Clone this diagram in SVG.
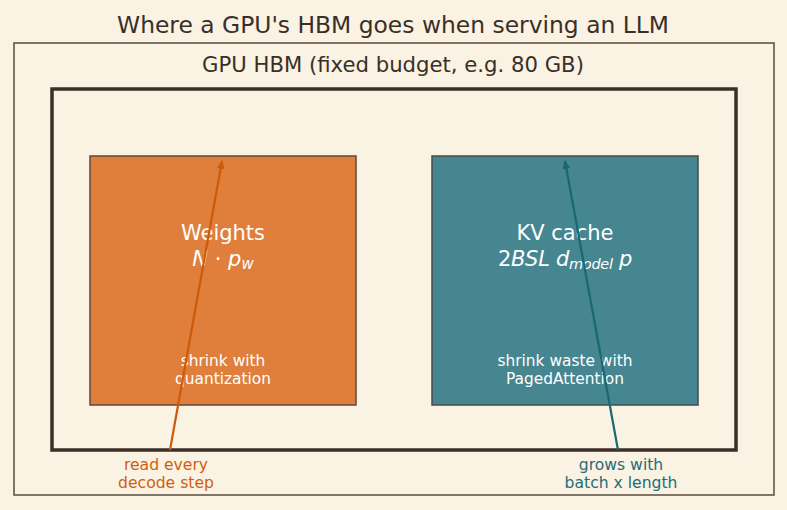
<svg xmlns="http://www.w3.org/2000/svg" width="787" height="510" viewBox="0 0 787 510">
<style>
text{font-family:"DejaVu Sans","Noto Sans",sans-serif;}
.title{font-size:23.4px;fill:#3a2f28;text-anchor:middle;}
.sub{font-size:21.2px;fill:#3a2f28;text-anchor:middle;}
.nt{font-size:21px;fill:#ffffff;text-anchor:middle;}
.ns{font-size:15.4px;fill:#ffffff;text-anchor:middle;}
.it{font-style:italic;}
.lo{font-size:15.6px;fill:#d35f0a;text-anchor:middle;}
.lt{font-size:15.6px;fill:#1f6d78;text-anchor:middle;}
</style>
<defs>
<marker id="ao" markerWidth="10" markerHeight="10" refX="8" refY="5" orient="auto" markerUnits="userSpaceOnUse"><path d="M0,1 L9,5 L0,9 Z" fill="#cc5a08"/></marker>
<marker id="at" markerWidth="10" markerHeight="10" refX="8" refY="5" orient="auto" markerUnits="userSpaceOnUse"><path d="M0,1 L9,5 L0,9 Z" fill="#1a6775"/></marker>
</defs>
<rect width="787" height="510" fill="#faf2e2"/>
<text class="title" x="393" y="33">Where a GPU's HBM goes when serving an LLM</text>
<g id="hbm">
<rect x="14" y="43" width="760" height="452" fill="none" stroke="#5a4b3c" stroke-width="1.5"/>
<text class="sub" x="393" y="72">GPU HBM (fixed budget, e.g. 80 GB)</text>
<rect x="52" y="89" width="684" height="361" fill="none" stroke="#3b2f28" stroke-width="3.5"/>
</g>
<g id="weights">
<rect x="90" y="156" width="266" height="249" fill="#e07f3b" stroke="#5a4b3c" stroke-width="1.5"/>
<text class="nt" x="223" y="240">Weights</text>
<text class="nt" x="223" y="266"><tspan class="it">N</tspan> · <tspan class="it">p</tspan><tspan class="it" font-size="15" dy="3">w</tspan></text>
<text class="ns" x="223" y="366">shrink with</text>
<text class="ns" x="223" y="384">quantization</text>
</g>
<g id="kvcache">
<rect x="432" y="156" width="266" height="249" fill="#468690" stroke="#4a4a4a" stroke-width="1.5"/>
<text class="nt" x="565" y="240">KV cache</text>
<text class="nt" x="565" y="266" letter-spacing="-0.3">2<tspan class="it">BSL</tspan> <tspan class="it">d</tspan><tspan class="it" font-size="14.5" dy="3">model</tspan><tspan class="it" dy="-3"> p</tspan></text>
<text class="ns" x="565" y="366">shrink waste with</text>
<text class="ns" x="565" y="384">PagedAttention</text>
</g>
<g id="connectors">
<line x1="170" y1="450" x2="222" y2="161" stroke="#cc5a08" stroke-width="2.2" marker-end="url(#ao)"/>
<line x1="618" y1="450" x2="565" y2="161" stroke="#1a6775" stroke-width="2.2" marker-end="url(#at)"/>
</g>
<g id="labels">
<text class="lo" x="166" y="470">read every</text>
<text class="lo" x="166" y="488">decode step</text>
<text class="lt" x="621" y="470">grows with</text>
<text class="lt" x="621" y="488">batch x length</text>
</g>
</svg>
